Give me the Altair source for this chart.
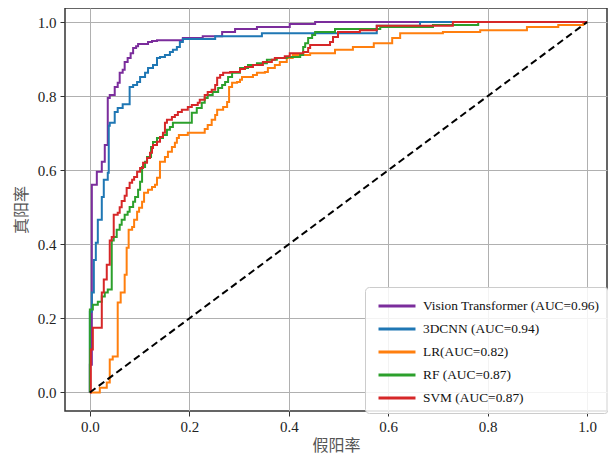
import altair as alt
import pandas as pd

models = ["Vision Transformer (AUC=0.96)", "3DCNN (AUC=0.94)", "LR(AUC=0.82)",
          "RF (AUC=0.87)", "SVM (AUC=0.87)"]
colors = ["#7b2d9c", "#1f77b4", "#ff7f0e", "#2ca02c", "#d62728"]

# ROC step points: (false positive rate, true positive rate level from that fpr on)
vt_roc = [(0, 0), (0, 0.075), (0.004, 0.561), (0.014, 0.596), (0.024, 0.623), (0.030, 0.668),
          (0.036, 0.795), (0.040, 0.803), (0.050, 0.825), (0.056, 0.836), (0.060, 0.863),
          (0.066, 0.871), (0.070, 0.892), (0.076, 0.903), (0.082, 0.916), (0.087, 0.930),
          (0.093, 0.935), (0.097, 0.941), (0.117, 0.946), (0.125, 0.949), (0.135, 0.951),
          (0.187, 0.957), (0.227, 0.962), (0.266, 0.973), (0.292, 0.981), (0.336, 0.987),
          (0.402, 0.995), (0.453, 1.0), (1.0, 1.0)]
cnn_roc = [(0, 0), (0, 0.218), (0.004, 0.27), (0.008, 0.358), (0.012, 0.404), (0.016, 0.466),
           (0.024, 0.528), (0.028, 0.574), (0.036, 0.593), (0.038, 0.72), (0.040, 0.728),
           (0.050, 0.757), (0.056, 0.768), (0.066, 0.778), (0.080, 0.825), (0.087, 0.830),
           (0.095, 0.838), (0.101, 0.852), (0.111, 0.863), (0.117, 0.876), (0.127, 0.884),
           (0.135, 0.903), (0.141, 0.906), (0.151, 0.911), (0.161, 0.919), (0.167, 0.925),
           (0.175, 0.933), (0.181, 0.946), (0.187, 0.954), (0.252, 0.962), (0.346, 0.970),
           (0.577, 0.990), (0.664, 1.0), (1.0, 1.0)]
lr_roc = [(0, 0), (0.020, 0.013), (0.034, 0.027), (0.040, 0.089), (0.046, 0.097), (0.056, 0.243),
          (0.062, 0.27), (0.070, 0.318), (0.074, 0.391), (0.078, 0.439), (0.085, 0.447),
          (0.089, 0.466), (0.095, 0.488), (0.099, 0.499), (0.105, 0.515), (0.109, 0.539),
          (0.117, 0.547), (0.125, 0.555), (0.131, 0.561), (0.135, 0.580), (0.141, 0.623),
          (0.151, 0.636), (0.157, 0.650), (0.165, 0.663), (0.171, 0.674), (0.175, 0.687),
          (0.179, 0.695), (0.197, 0.701), (0.231, 0.711), (0.237, 0.722), (0.245, 0.736),
          (0.252, 0.749), (0.256, 0.763), (0.268, 0.771), (0.276, 0.784), (0.280, 0.825),
          (0.286, 0.836), (0.296, 0.838), (0.302, 0.844), (0.306, 0.852), (0.328, 0.857),
          (0.336, 0.863), (0.352, 0.865), (0.358, 0.876), (0.372, 0.884), (0.382, 0.892),
          (0.396, 0.903), (0.408, 0.911), (0.443, 0.916), (0.493, 0.925), (0.529, 0.933),
          (0.571, 0.943), (0.608, 0.957), (0.624, 0.970), (0.710, 0.973), (0.785, 0.978),
          (0.879, 0.987), (0.942, 0.992), (0.992, 1.0), (1.0, 1.0)]
rf_roc = [(0, 0), (0, 0.224), (0.006, 0.237), (0.016, 0.245), (0.024, 0.259), (0.030, 0.270),
          (0.036, 0.278), (0.044, 0.410), (0.048, 0.420), (0.054, 0.439), (0.060, 0.453),
          (0.064, 0.466), (0.070, 0.480), (0.076, 0.488), (0.080, 0.501), (0.087, 0.515),
          (0.091, 0.528), (0.097, 0.547), (0.101, 0.569), (0.105, 0.609), (0.111, 0.623),
          (0.115, 0.636), (0.123, 0.663), (0.127, 0.676), (0.135, 0.687), (0.147, 0.695),
          (0.155, 0.709), (0.161, 0.717), (0.167, 0.728), (0.205, 0.755), (0.215, 0.768),
          (0.225, 0.782), (0.231, 0.795), (0.237, 0.803), (0.247, 0.811), (0.258, 0.822),
          (0.266, 0.830), (0.272, 0.838), (0.278, 0.852), (0.286, 0.863), (0.302, 0.876),
          (0.318, 0.884), (0.336, 0.889), (0.356, 0.898), (0.376, 0.903), (0.396, 0.906),
          (0.423, 0.911), (0.429, 0.933), (0.433, 0.943), (0.439, 0.957), (0.447, 0.965),
          (0.453, 0.973), (0.493, 0.981), (0.584, 0.987), (0.690, 0.992), (0.781, 1.0),
          (1.0, 1.0)]
svm_roc = [(0, 0), (0.002, 0.116), (0.006, 0.175), (0.024, 0.27), (0.028, 0.305), (0.034, 0.345),
           (0.040, 0.41), (0.044, 0.42), (0.048, 0.48), (0.056, 0.485), (0.060, 0.50),
           (0.064, 0.517), (0.070, 0.531), (0.074, 0.552), (0.080, 0.566), (0.085, 0.574),
           (0.089, 0.582), (0.095, 0.596), (0.101, 0.606), (0.107, 0.620), (0.115, 0.633),
           (0.121, 0.647), (0.125, 0.660), (0.127, 0.668), (0.135, 0.677), (0.141, 0.690),
           (0.147, 0.701), (0.151, 0.728), (0.155, 0.736), (0.165, 0.744), (0.171, 0.749),
           (0.177, 0.757), (0.185, 0.763), (0.197, 0.771), (0.205, 0.776), (0.217, 0.782),
           (0.221, 0.790), (0.231, 0.803), (0.237, 0.811), (0.245, 0.817), (0.252, 0.830),
           (0.256, 0.850), (0.262, 0.857), (0.268, 0.863), (0.282, 0.865), (0.302, 0.873),
           (0.312, 0.879), (0.328, 0.884), (0.348, 0.892), (0.366, 0.898), (0.372, 0.903),
           (0.392, 0.908), (0.402, 0.916), (0.429, 0.919), (0.439, 0.930), (0.443, 0.938),
           (0.483, 0.946), (0.489, 0.960), (0.499, 0.973), (0.543, 0.978), (0.577, 0.990),
           (0.730, 1.0), (1.0, 1.0)]

chance_fpr = [0.0, 1.0]
chance_tpr = [0.0, 1.0]
tick_values = [0.0, 0.2, 0.4, 0.6, 0.8, 1.0]

rows = []
for m, pts in zip(models, [vt_roc, cnn_roc, lr_roc, rf_roc, svm_roc]):
    for i, (fx, ty) in enumerate(pts):
        rows.append({"model": m, "fpr": fx, "tpr": ty, "idx": i})
df = pd.DataFrame(rows)
diag = pd.DataFrame({"fpr": chance_fpr, "tpr": chance_tpr})

xscale = alt.Scale(domain=[-0.05, 1.04], nice=False, zero=False)
yscale = alt.Scale(domain=[-0.05, 1.038], nice=False, zero=False)
x_enc = alt.X("fpr:Q", scale=xscale, title="假阳率",
              axis=alt.Axis(values=tick_values, format=".1f", titlePadding=3, labelPadding=3))
y_enc = alt.Y("tpr:Q", scale=yscale, title="真阳率",
              axis=alt.Axis(values=tick_values, format=".1f", titlePadding=8, labelPadding=4))

lines = alt.Chart(df).mark_line(interpolate="step-after", strokeWidth=2).encode(
    x=x_enc,
    y=y_enc,
    color=alt.Color("model:N", sort=models,
                    scale=alt.Scale(domain=models, range=colors),
                    legend=alt.Legend(title=None, orient="none", legendX=300, legendY=279,
                                      symbolType="M-2,0H2", symbolSize=342,
                                      symbolStrokeWidth=3, symbolOffset=13,
                                      labelFont="Liberation Serif", labelFontSize=13.4,
                                      labelColor="#111", labelOffset=15, labelLimit=0,
                                      strokeColor="#cccccc", fillColor="rgba(255,255,255,0.85)",
                                      cornerRadius=4, padding=8, rowPadding=5)),
    order=alt.Order("idx:Q"),
)

diag_line = alt.Chart(diag).mark_line(color="black", strokeDash=[7, 4], strokeWidth=2).encode(
    x=x_enc, y=y_enc
)

chart = alt.layer(lines, diag_line).properties(
    width=542, height=403,
    padding={"left": 57, "top": 0, "right": 1, "bottom": 44},
    autosize=alt.AutoSizeParams(type="none"),
).configure_view(
    stroke="#333333", strokeWidth=1.5
).configure_axis(
    domain=False,
    labelFont="Liberation Serif", labelFontSize=15, labelColor="#222",
    tickColor="#333", tickSize=5, tickWidth=1,
    gridColor="#b0b0b0", gridWidth=1,
    titleFont="Noto Sans CJK SC", titleFontSize=16, titleColor="#555", titleFontWeight="normal",
)

chart.save("out.html", embed_options={"renderer": "svg", "actions": False})
